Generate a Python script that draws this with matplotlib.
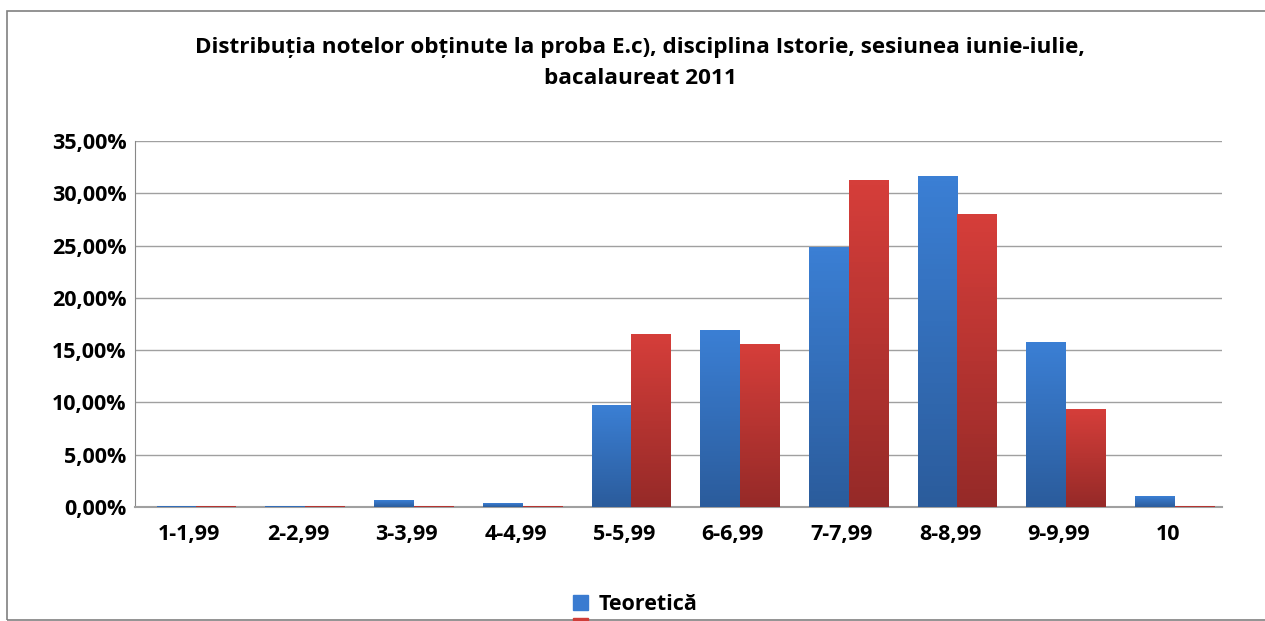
import matplotlib.pyplot as plt
import numpy as np
from matplotlib.patches import Rectangle
from matplotlib.colors import LinearSegmentedColormap
from matplotlib.ticker import FuncFormatter

# --- Datos ---
categorias = ['1-1,99', '2-2,99', '3-3,99', '4-4,99', '5-5,99',
              '6-6,99', '7-7,99', '8-8,99', '9-9,99', '10']
teoretica = [0.05, 0.05, 0.6, 0.3, 9.7, 16.9, 24.8, 31.6, 15.7, 1.0]
realizata = [0.02, 0.02, 0.05, 0.05, 16.5, 15.5, 31.2, 28.0, 9.3, 0.05]
titlu = 'Distribuția notelor obținute la proba E.c), disciplina Istorie, sesiunea iunie-iulie,\nbacalaureat 2011'

plt.rcParams['font.family'] = ['Open Sans', 'DejaVu Sans']

W, H = 1265, 621
fig = plt.figure(figsize=(W / 100, H / 100), dpi=100)

# Marco del gráfico
fig.patches.append(Rectangle((7 / W, 1 / H), 1.0, (H - 12) / H, transform=fig.transFigure,
                             fill=False, edgecolor='#808080', linewidth=1.2))

ax = fig.add_axes([135 / W, (H - 507) / H, (1222 - 135) / W, (507 - 141) / H])

x = np.arange(len(categorias))
w = 0.365
cmap_blue = LinearSegmentedColormap.from_list('b', ['#2b5c9c', '#3b7fd4'])
cmap_red = LinearSegmentedColormap.from_list('r', ['#962a28', '#d53e3a'])
grad = np.linspace(0, 1, 64).reshape(-1, 1)

def bars(xs, vals, col, cmap):
    bs = ax.bar(xs, vals, w, color=col, edgecolor='none', zorder=3)
    for b in bs:
        x0, h = b.get_x(), b.get_height()
        ax.imshow(grad, cmap=cmap, origin='lower', aspect='auto',
                  extent=(x0, x0 + w, 0, max(h, 0.08)), zorder=3.5)
    return bs

b1 = bars(x + 0.065 - w / 2, teoretica, '#3a7bd0', cmap_blue)
b2 = bars(x + 0.065 + w / 2, realizata, '#cf3d38', cmap_red)

ax.set_xlim(-0.5, len(categorias) - 0.5)
ax.set_ylim(0, 35)
ax.set_yticks(np.arange(0, 36, 5))
ax.yaxis.set_major_formatter(FuncFormatter(lambda v, p: f'{v:.2f}%'.replace('.', ',')))
ax.set_xticks(x)
ax.set_xticklabels(categorias)
for lab in ax.get_xticklabels() + ax.get_yticklabels():
    lab.set_fontweight('bold')
    lab.set_fontsize(15.5)
ax.tick_params(axis='both', length=0, pad=6)
ax.tick_params(axis='x', pad=12)
ax.grid(axis='y', color='#a0a0a0', linewidth=1.0, zorder=0)
for s in ['top', 'right']:
    ax.spines[s].set_visible(False)
ax.spines['left'].set_color('#888888')
ax.spines['bottom'].set_color('#a0a0a0')
ax.spines['bottom'].set_linewidth(1.5)

fig.text(640 / W, 1 - 63 / H, titlu, ha='center', va='center', fontsize=16.2,
         fontweight='bold', linespacing=1.65)

fig.legend([Rectangle((0, 0), 1, 1, color='#3a7bd0'), Rectangle((0, 0), 1, 1, color='#cf3d38')],
           ['Teoretică', ''], loc='upper left', bbox_to_anchor=(554 / W, 1 - 575 / H),
           frameon=False, handlelength=0.7, handleheight=0.7, handletextpad=0.45,
           labelspacing=0.1, prop={'weight': 'bold', 'size': 15.5})

fig.savefig('out.png', dpi=100)
